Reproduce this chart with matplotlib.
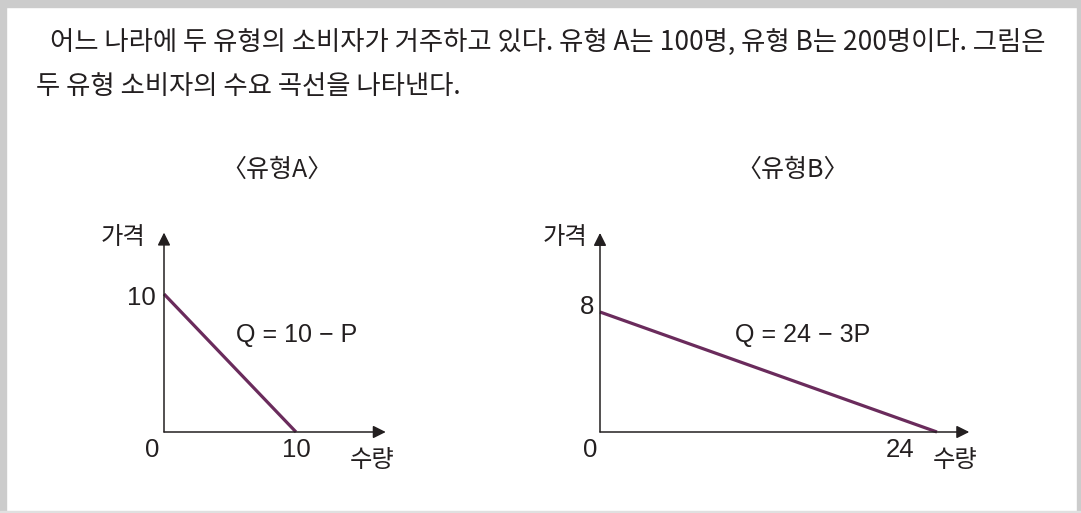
import matplotlib
matplotlib.use("Agg")
import matplotlib.pyplot as plt
from matplotlib.patches import Rectangle

# ---- data ----
intro_lines = ["어느 나라에 두 유형의 소비자가 거주하고 있다. 유형 A는 100명, 유형 B는 200명이다. 그림은",
               "두 유형 소비자의 수요 곡선을 나타낸다."]
panel_titles = ["〈유형A〉", "〈유형B〉"]
equations = ["Q = 10 − P", "Q = 24 − 3P"]
# demand curves: (quantity, price) end points
curve_a_q = [0, 10]
curve_a_p = [10, 0]
curve_b_q = [0, 24]
curve_b_p = [8, 0]
a_xtick = [10]
a_ytick = [10]
b_xtick = [24]
b_ytick = [8]
y_label = "가격"
x_label = "수량"

W, H = 1081, 513
fig = plt.figure(figsize=(W / 100, H / 100), dpi=100)
fig.patch.set_facecolor("white")

INK = "#231f20"
PURPLE = "#6a2b5c"
KR = ["Noto Sans CJK KR", "DejaVu Sans"]
NUM = ["Liberation Sans", "DejaVu Sans"]


def fx(px):
    return px / W


def fy(py):
    return 1 - py / H


# frame
fig.patches.append(Rectangle((0, fy(7)), 1, 7 / H, transform=fig.transFigure, color="#cccccc", zorder=0))
fig.patches.append(Rectangle((0, 0), 6 / W, 1, transform=fig.transFigure, color="#cccccc", zorder=0))
fig.patches.append(Rectangle((fx(W - 4), 0), 4 / W, 1, transform=fig.transFigure, color="#cccccc", zorder=0))
fig.patches.append(Rectangle((0, 0), 1, 2 / H, transform=fig.transFigure, color="#e0e0e0", zorder=0))

# intro text
fig.text(fx(50), fy(42), intro_lines[0], fontsize=19, family=KR, color=INK, ha="left", va="center")
fig.text(fx(36), fy(87), intro_lines[1], fontsize=19, family=KR, color=INK, ha="left", va="center")


def make_panel(x0, y0, sx, sy, xmax, ymax, q, p, xt, yt, title, eq,
               title_xy, eq_xy, ylab_xy, xlab_xy, zero_xy, xt_xy, yt_xy):
    ax = fig.add_axes([fx(x0), 1 - y0 / H, xmax * sx / W, ymax * sy / H])
    ax.set_xlim(0, xmax)
    ax.set_ylim(0, ymax)
    ax.axis("off")
    ax.patch.set_alpha(0)
    ax.plot(q, p, color=PURPLE, lw=2.3, solid_capstyle="butt", clip_on=False, zorder=3)
    arrow = dict(arrowstyle="-|>", mutation_scale=19, lw=1.1, color=INK, shrinkA=0, shrinkB=0)
    ax.annotate("", xy=(xmax, 0), xytext=(0, 0), arrowprops=arrow, annotation_clip=False)
    ax.annotate("", xy=(0, ymax), xytext=(0, 0), arrowprops=arrow, annotation_clip=False)
    fig.text(fx(title_xy[0]), fy(title_xy[1]), title, fontsize=18, family=KR, color=INK, ha="center", va="center")
    fig.text(fx(eq_xy[0]), fy(eq_xy[1]), eq, fontsize=18, family=NUM, color=INK, ha="center", va="center")
    fig.text(fx(ylab_xy[0]), fy(ylab_xy[1]), y_label, fontsize=17.5, family=KR, color=INK, ha="center", va="center")
    fig.text(fx(xlab_xy[0]), fy(xlab_xy[1]), x_label, fontsize=17.5, family=KR, color=INK, ha="center", va="center")
    fig.text(fx(zero_xy[0]), fy(zero_xy[1]), "0", fontsize=18.5, family=NUM, color=INK, ha="center", va="center")
    fig.text(fx(xt_xy[0]), fy(xt_xy[1]), str(xt[0]), fontsize=18.5, family=NUM, color=INK, ha="center", va="center")
    fig.text(fx(yt_xy[0]), fy(yt_xy[1]), str(yt[0]), fontsize=18.5, family=NUM, color=INK, ha="right", va="center")
    return ax


make_panel(164, 432, 13.2, 13.8, 16.8, 14.45, curve_a_q, curve_a_p, a_xtick, a_ytick,
           panel_titles[0], equations[0],
           (277, 170), (297, 335), (123, 237), (372, 460), (152, 450), (296, 450), (156, 298))
make_panel(600, 432, 14.04, 15.0, 26.3, 13.27, curve_b_q, curve_b_p, b_xtick, b_ytick,
           panel_titles[1], equations[1],
           (793, 170), (803, 335), (565, 237), (955, 460), (590, 450), (900, 450), (594, 307))

fig.savefig("out.png", dpi=100, facecolor="white")
